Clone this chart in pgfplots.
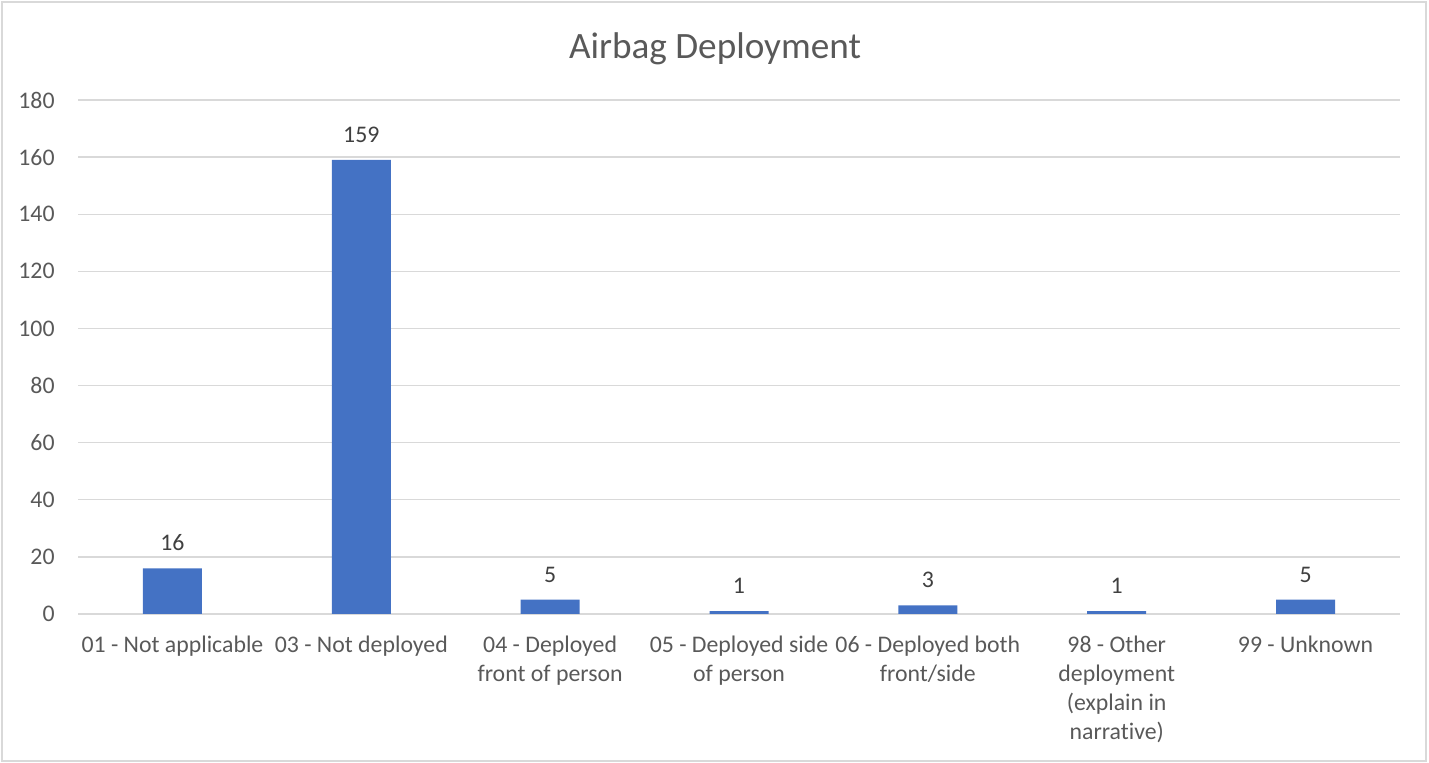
\documentclass[border=0pt]{standalone}
\usepackage{pgfplots}
\pgfplotsset{compat=1.18}
\usepackage{fontspec}
\setmainfont{Carlito}[Ligatures=NoCommon]
\definecolor{barblue}{HTML}{4472C4}
\definecolor{gridgray}{HTML}{D9D9D9}
\definecolor{txtgray}{HTML}{595959}
\definecolor{lblgray}{HTML}{404040}
\definecolor{bordergray}{HTML}{D9D9D9}
\begin{document}
\begin{tikzpicture}[x=1pt,y=1pt]
\useasboundingbox (0,0) rectangle (714.5,381.5);
\draw[bordergray, line width=0.6pt] (1,1) rectangle (713,380.5);
\node[anchor=base, text=txtgray, font=\fontsize{18.6}{22}\selectfont] at (357.5,352) {Airbag Deployment};
\begin{axis}[
  at={(39pt,74.5pt)}, anchor=south west,
  scale only axis, width=661pt, height=257pt,
  xmin=-0.5, xmax=6.5, ymin=0, ymax=180,
  ytick={0,20,...,180},
  xtick={0,...,6},
  xticklabels={01 - Not applicable,03 - Not deployed,04 - Deployed\\front of person,05 - Deployed side\\of person,06 - Deployed both\\front/side,98 - Other\\deployment\\(explain in\\narrative),99 - Unknown},
  axis line style={draw=none},
  major tick length=0pt,
  ymajorgrids, grid style={gridgray, line width=0.7pt},
  tick label style={text=txtgray, font=\fontsize{11.9}{14.5}\selectfont},
  /pgf/number format/assume math mode=true,
  xticklabel style={align=center, anchor=north, inner sep=0pt, yshift=-10.6pt},
  yticklabel style={anchor=east, inner sep=0pt, xshift=-11.5pt},
  ybar, bar width=29.5pt,
  nodes near coords,
  every node near coord/.append style={text=lblgray, font=\fontsize{11.9}{14}\selectfont, inner sep=0pt, yshift=8.5pt, anchor=south},
  clip=false,
]
\addplot[fill=barblue, draw=none] coordinates {(0,16) (1,159) (2,5) (3,1) (4,3) (5,1) (6,5)};
\end{axis}
\end{tikzpicture}
\end{document}
